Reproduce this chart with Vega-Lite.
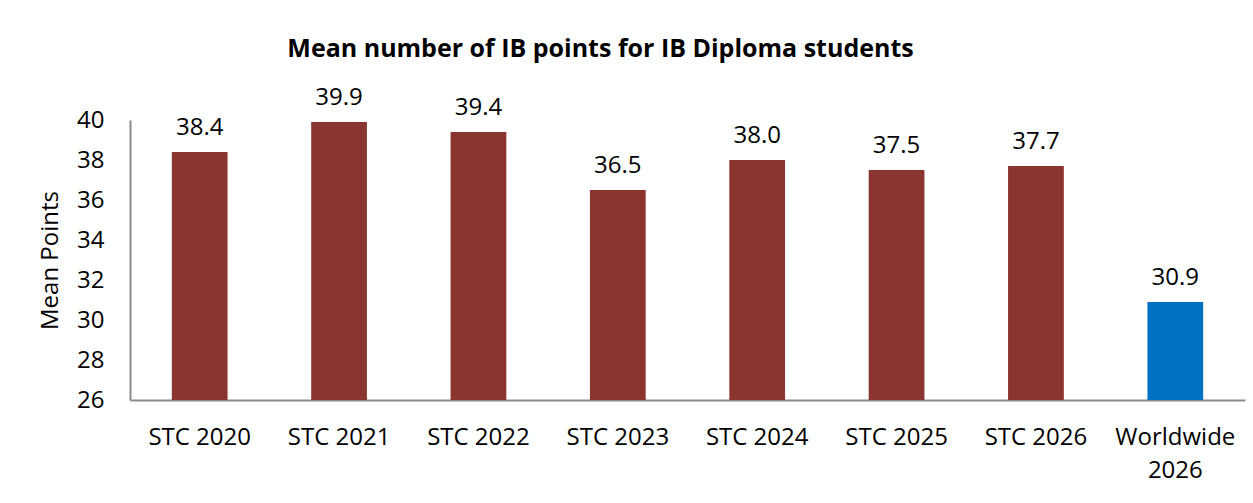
{
  "$schema": "https://vega.github.io/schema/vega-lite/v6.json",
  "width": 1115,
  "height": 280,
  "autosize": {"type": "none"},
  "padding": {"left": 130, "top": 120, "right": 8, "bottom": 103},
  "background": "white",
  "title": {
    "text": "Mean number of IB points for IB Diploma students",
    "font": "Open Sans",
    "fontSize": 25,
    "fontWeight": "bold",
    "color": "#000000",
    "anchor": "middle",
    "dx": -87,
    "offset": 24
  },
  "data": {
    "values": [
      {"label": "STC 2020", "value": 38.4, "group": "STC"},
      {"label": "STC 2021", "value": 39.9, "group": "STC"},
      {"label": "STC 2022", "value": 39.4, "group": "STC"},
      {"label": "STC 2023", "value": 36.5, "group": "STC"},
      {"label": "STC 2024", "value": 38.0, "group": "STC"},
      {"label": "STC 2025", "value": 37.5, "group": "STC"},
      {"label": "STC 2026", "value": 37.7, "group": "STC"},
      {"label": "Worldwide 2026", "value": 30.9, "group": "Worldwide"}
    ]
  },
  "encoding": {
    "x": {
      "field": "label",
      "type": "nominal",
      "sort": null,
      "scale": {"paddingInner": 0.6, "paddingOuter": 0.3},
      "axis": {
        "title": null,
        "labelAngle": 0,
        "labelFont": "Open Sans",
        "labelFontSize": 24,
        "labelColor": "#000000",
        "labelPadding": 25,
        "labelLineHeight": 33,
        "labelBaseline": "top",
        "ticks": false,
        "domainColor": "#8c8c8c",
        "domainWidth": 2,
        "labelExpr": "datum.value == 'Worldwide 2026' ? ['Worldwide', '2026'] : datum.value"
      }
    },
    "y": {
      "field": "value",
      "type": "quantitative",
      "scale": {"domain": [26, 40], "nice": false, "zero": false},
      "axis": {
        "title": "Mean Points",
        "titleFont": "Open Sans",
        "titleFontSize": 24,
        "titleFontWeight": "normal",
        "titleColor": "#000000",
        "titlePadding": 14,
        "labelFont": "Open Sans",
        "labelFontSize": 24,
        "labelColor": "#000000",
        "labelPadding": 26,
        "values": [26, 28, 30, 32, 34, 36, 38, 40],
        "ticks": false,
        "grid": false,
        "domainColor": "#8c8c8c",
        "domainWidth": 2
      }
    }
  },
  "layer": [
    {
      "mark": {"type": "bar", "clip": true},
      "encoding": {
        "color": {
          "field": "group",
          "type": "nominal",
          "scale": {"domain": ["STC", "Worldwide"], "range": ["#8B3531", "#0070C0"]},
          "legend": null
        }
      }
    },
    {
      "mark": {"type": "text", "baseline": "bottom", "dy": -12, "font": "Open Sans", "fontSize": 24, "color": "#000000"},
      "encoding": {
        "text": {"field": "value", "type": "quantitative", "format": ".1f"}
      }
    }
  ],
  "config": {"view": {"stroke": null}}
}
